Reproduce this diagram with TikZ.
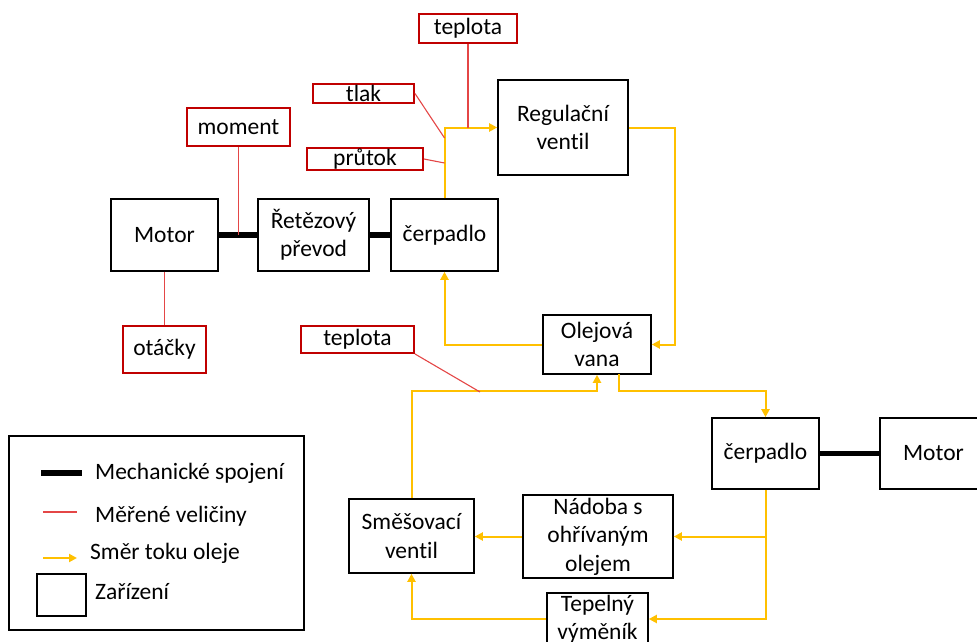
\documentclass[tikz,border=0pt]{standalone}
\usepackage{fontspec}
\setmainfont{Carlito}[Ligatures=NoCommon]
\usetikzlibrary{arrows.meta}
\definecolor{oilyellow}{RGB}{255,192,0}
\definecolor{boxred}{RGB}{192,0,0}
\definecolor{sigred}{RGB}{228,70,70}
\begin{document}
\begin{tikzpicture}[x=1pt, y=-1pt,
		font=\fontsize{23.5}{28.5}\selectfont,
		dev/.style={draw, line width=1.6pt, align=center, inner sep=0pt},
		meas/.style={draw=boxred, line width=1.9pt, inner sep=0pt},
		flow/.style={draw=oilyellow, line width=2pt, -{Triangle[length=8pt, width=8pt]}},
		mech/.style={line width=5.3pt},
		sig/.style={draw=sigred, line width=1.1pt}]
			\useasboundingbox (0,0) rectangle (977,642);
			\clip (0,0) rectangle (977,642);
			
			\node[dev, minimum width=107pt, minimum height=72pt] (motorA) at (164.5,235) {Motor};
			\node[dev, minimum width=111pt, minimum height=72pt] (chain) at (313.5,235) {Řetězový\\převod};
			\node[dev, minimum width=107pt, minimum height=72pt] (pumpA) at (444.5,235) {čerpadlo};
			\node[dev, minimum width=130pt, minimum height=95pt] (valve) at (563,127.5) {Regulační\\ventil};
			\node[dev, minimum width=108pt, minimum height=59pt] (sump) at (597,344.5) {Olejová\\vana};
			\node[dev, minimum width=107pt, minimum height=71pt] (pumpB) at (765.5,453.5) {čerpadlo};
			\node[dev, minimum width=107pt, minimum height=71pt] (motorB) at (933.5,453.5) {Motor};
			\node[dev, minimum width=125pt, minimum height=74pt] (mixer) at (411.5,536) {Směšovací\\ventil};
			\node[dev, minimum width=150pt, minimum height=83pt] (tank) at (598,536.5) {Nádoba s\\ohřívaným\\olejem};
			\node[dev, minimum width=101pt, minimum height=52pt] (cooler) at (597.5,619) {Tepelný\\výměník};
			
			\node[meas, minimum width=98pt, minimum height=29pt] (tempA) at (468,28.5) {teplota};
			\node[meas, minimum width=101pt, minimum height=19pt] (press) at (363.5,93.5) {tlak};
			\node[meas, minimum width=116pt, minimum height=22pt] (rate) at (365,159) {průtok};
			\node[meas, minimum width=103pt, minimum height=38pt] (torque) at (238.5,127) {moment};
			\node[meas, minimum width=83pt, minimum height=47pt] (speed) at (164.5,349.5) {otáčky};
			\node[meas, minimum width=113pt, minimum height=27pt] (tempB) at (357.5,339.5) {teplota};
			
			\coordinate (pressPt) at (444.5,138);
			\coordinate (ratePt) at (444.5,163);
			\coordinate (tempPt) at (480,392);
			\coordinate (sumpOut) at (619,374);
			
			\draw[mech] (motorA.east) -- (chain.west);
			\draw[mech] (chain.east) -- (pumpA.west);
			\draw[mech] (pumpB.east) -- (motorB.west);
			
			\draw[flow] (pumpA.north) |- (valve.west);
			\draw[flow] (valve.east) -- ++(46,0) |- (sump.east);
			\draw[flow] (sump.west) -| (pumpA.south);
			\draw[flow] (sumpOut) -- ++(0,17) -| (pumpB.north);
			\draw[flow] (pumpB.south) |- (cooler.east);
			\draw[flow] (pumpB.south |- tank.east) -- (tank.east);
			\draw[flow] (tank.west) -- (tank.west -| mixer.east);
			\draw[flow] (cooler.west) -| (mixer.south);
			\draw[flow] (mixer.north) -- ++(0,-107) -| (sump.south);
			
			\draw[sig] (tempA.south) -- (tempA.south |- valve.west);
			\draw[sig] (press.east) -- (pressPt);
			\draw[sig] (rate.east) -- (ratePt);
			\draw[sig] (torque.south) -- (torque.south |- motorA.east);
			\draw[sig] (motorA.south) -- (speed.north);
			\draw[sig] (tempB.south east) -- (tempPt);
			
			\node[draw, line width=1.6pt, minimum width=295pt, minimum height=194pt] (legend) at (156.5,533) {};
			\draw[mech] (41,473) -- (82,473);
			\node[anchor=west, inner sep=0pt] (legMech) at (95,473) {Mechanické spojení};
			\draw[sig] (43,512) -- (77,512);
			\node[anchor=west, inner sep=0pt] (legSig) at (95,516) {Měřené veličiny};
			\draw[flow] (43,558) -- (77,558);
			\node[anchor=west, inner sep=0pt] (legFlow) at (90,553) {Směr toku oleje};
			\draw[line width=1.6pt] (37,574) rectangle (86,616);
			\node[anchor=west, inner sep=0pt] (legDev) at (95,592) {Zařízení};
		
		\end{tikzpicture}
\end{document}
